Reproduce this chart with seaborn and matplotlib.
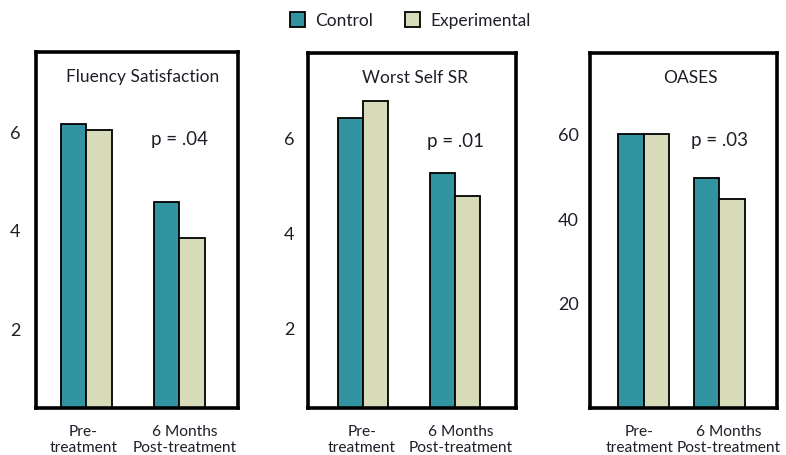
import matplotlib
matplotlib.use("Agg")
import matplotlib.pyplot as plt
import matplotlib.transforms as mtransforms
from matplotlib.patches import Patch
import pandas as pd
import seaborn as sns

# Data
timepoints = ["Pre-\ntreatment", "6 Months\nPost-treatment"]
groups = ["Control", "Experimental"]

fluency_control = [6.18, 4.59]
fluency_experimental = [6.06, 3.86]

worst_self_control = [6.43, 5.27]
worst_self_experimental = [6.78, 4.79]

oases_control = [60.0, 49.7]
oases_experimental = [60.0, 44.8]

panel_titles = ["Fluency Satisfaction", "Worst Self SR", "OASES"]
p_labels = ["p = .04", "p = .01", "p = .03"]
y_ticks = [[2, 4, 6], [2, 4, 6], [20, 40, 60]]

colors = {"Control": "#3194a0", "Experimental": "#d8dbb9"}
text_color = "#1e1e28"

sns.set_theme(style="white")
plt.rcParams["font.family"] = ["Lato", "DejaVu Sans"]
plt.rcParams["text.color"] = text_color


def long_frame(control, experimental):
    rows = []
    for t, c, e in zip(timepoints, control, experimental):
        rows.append({"time": t, "group": "Control", "score": c})
        rows.append({"time": t, "group": "Experimental", "score": e})
    return pd.DataFrame(rows)


frames = [
    long_frame(fluency_control, fluency_experimental),
    long_frame(worst_self_control, worst_self_experimental),
    long_frame(oases_control, oases_experimental),
]

fig = plt.figure(figsize=(7.86, 4.55), dpi=100)

# axes placement, limits and bar widths per panel
boxes = [
    [0.0458, 0.1033, 0.3028 - 0.0458, 0.8857 - 0.1033],
    [0.3915, 0.1033, 0.6565 - 0.3915, 0.8830 - 0.1033],
    [0.7506, 0.1033, 0.9882 - 0.7506, 0.8840 - 0.1033],
]
xlims = [(-0.54, 1.63), (-0.60, 1.66), (-0.71, 1.76)]
ylims = [(0.39, 7.65), (0.34, 7.79), (-4.66, 79.3)]
widths = [0.547, 0.548, 0.675]
title_x = [0.53, 0.515, 0.538]
p_y = [5.86, 5.93, 58.5]
ytick_pad = [11, 9.5, 8]
# horizontal nudge (points) of the category labels
label_shift = [(-2, 4), (-1, 4), (-3, 7)]

for i, df in enumerate(frames):
    ax = fig.add_axes(boxes[i])
    sns.barplot(
        data=df, x="time", y="score", hue="group", hue_order=groups,
        palette=colors, width=widths[i], edgecolor="black", linewidth=1.3,
        saturation=1, legend=False, ax=ax, errorbar=None,
    )
    lo, hi = ylims[i]
    # bars run down to the lower frame edge
    for p in ax.patches:
        top = p.get_y() + p.get_height()
        p.set_y(lo)
        p.set_height(top - lo)
    ax.set_xlim(*xlims[i])
    ax.set_ylim(lo, hi)
    ax.set_yticks(y_ticks[i])
    ax.set_yticklabels([str(v) for v in y_ticks[i]])
    ax.set_xticks(range(len(timepoints)))
    ax.set_xticklabels(timepoints, fontsize=11.2, color=text_color, linespacing=1.2)
    ax.tick_params(axis="y", length=0, pad=ytick_pad[i], labelsize=13,
                   labelcolor=text_color)
    ax.tick_params(axis="x", length=0, pad=12)
    for lab, dx in zip(ax.get_xticklabels(), label_shift[i]):
        lab.set_transform(lab.get_transform() +
                          mtransforms.ScaledTranslation(dx / 72, 0, fig.dpi_scale_trans))
    ax.set_xlabel("")
    ax.set_ylabel("")
    for s in ax.spines.values():
        s.set_visible(True)
        s.set_color("black")
        s.set_linewidth(2.6)
    ax.text(title_x[i], 0.93, panel_titles[i], transform=ax.transAxes,
            ha="center", va="center", fontsize=12.5, color=text_color)
    ax.text(1, p_y[i], p_labels[i], ha="center", va="center",
            fontsize=13.5, color=text_color)

handles = [Patch(facecolor=colors[g], edgecolor="black", linewidth=1.3, label=g)
           for g in groups]
fig.legend(handles=handles, loc="center", bbox_to_anchor=(0.522, 0.955), ncol=2,
           frameon=False, fontsize=12.5, handlelength=0.9, handleheight=0.9,
           handletextpad=0.6, columnspacing=1.8)

fig.savefig("out.png", dpi=100)
